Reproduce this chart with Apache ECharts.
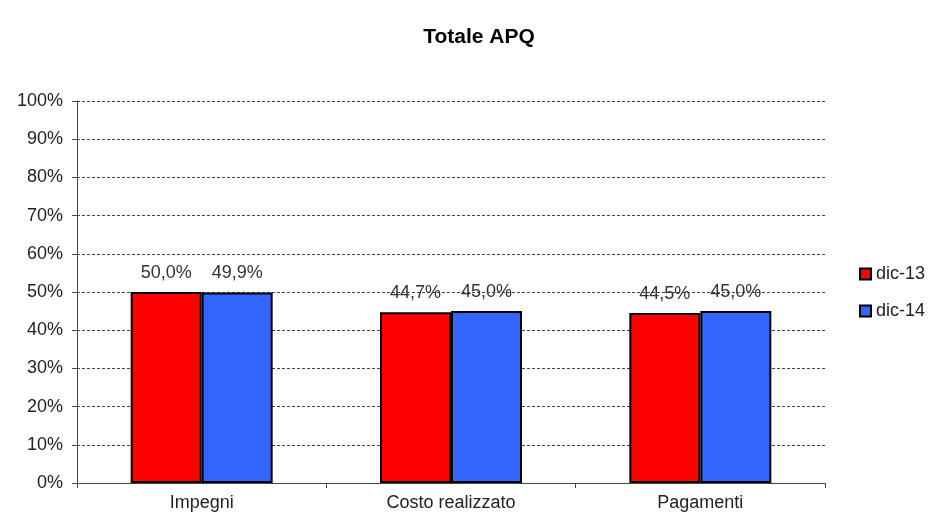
<!DOCTYPE html>
<html>
<head>
<meta charset="utf-8">
<script src="https://cdn.jsdelivr.net/npm/echarts@6/dist/echarts.min.js"></script>
<style>
  html, body { margin: 0; padding: 0; background: #fff; }
  #chart { width: 928px; height: 518px; }
</style>
</head>
<body>
<div id="chart"></div>
<script>
// dati
const categories = ["Impegni", "Costo realizzato", "Pagamenti"];
const dic13 = [50.0, 44.7, 44.5];
const dic14 = [49.9, 45.0, 45.0];
const seriesNames = ["dic-13", "dic-14"];

const chart = echarts.init(document.getElementById("chart"));

const fmt = v => v.toFixed(1).replace(".", ",") + "%";

const label = {
  show: true,
  position: "top",
  distance: 10,
  color: "#333",
  fontSize: 18,
  formatter: p => fmt(p.value)
};

chart.setOption({
  animation: false,
  textStyle: { fontFamily: "Liberation Sans, Arial, sans-serif" },
  title: {
    text: "Totale APQ",
    left: 474,
    textAlign: "center",
    top: 22,
    textStyle: { fontSize: 21, fontWeight: "bold", color: "#000" }
  },
  legend: {
    orient: "vertical",
    left: 859,
    top: 265,
    padding: 0,
    icon: "rect",
    itemWidth: 11,
    itemHeight: 11,
    itemGap: 19,
    textStyle: { fontSize: 18, color: "#222" },
    itemStyle: { borderColor: "#000", borderWidth: 2 },
    data: seriesNames
  },
  grid: { left: 77, right: 103, top: 101, bottom: 35 },
  xAxis: {
    type: "category",
    data: categories,
    axisLine: { lineStyle: { color: "#444", width: 1 } },
    axisTick: { show: true, length: 5, lineStyle: { color: "#444" } },
    axisLabel: { fontSize: 18, color: "#222", margin: 11 }
  },
  yAxis: {
    type: "value",
    min: 0,
    max: 100,
    interval: 10,
    axisLine: { show: true, lineStyle: { color: "#444" } },
    axisTick: { show: true, length: 5, lineStyle: { color: "#444" } },
    axisLabel: { fontSize: 18, color: "#222", margin: 14, formatter: "{value}%" },
    splitLine: { lineStyle: { color: "#444", type: [3, 2], width: 1 } }
  },
  series: [
    {
      name: seriesNames[0],
      type: "bar",
      data: dic13,
      barWidth: 71,
      barGap: "0%",
      itemStyle: { color: "#ff0000", borderColor: "#000", borderWidth: 2 },
      label: label
    },
    {
      name: seriesNames[1],
      type: "bar",
      data: dic14,
      barWidth: 71,
      barGap: "0%",
      itemStyle: { color: "#3366ff", borderColor: "#000", borderWidth: 2 },
      label: label
    }
  ]
});
</script>
</body>
</html>
